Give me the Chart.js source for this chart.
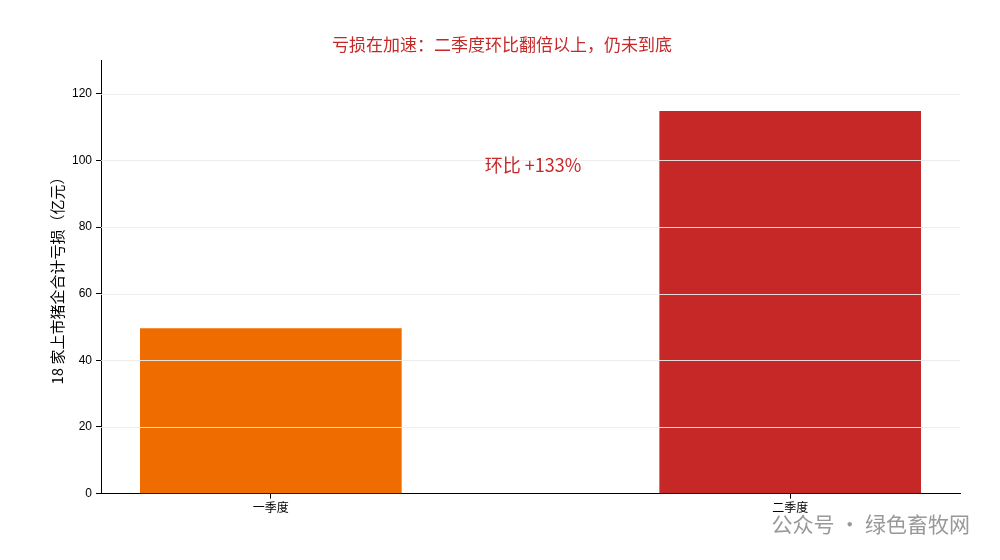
<!DOCTYPE html>
<html><head><meta charset="utf-8">
<script src="https://cdn.jsdelivr.net/npm/chart.js@4"></script>
<style>
body{margin:0;background:#fff;font-family:"Noto Sans CJK SC",sans-serif;}
#wrap{position:relative;width:1000px;height:560px;}
#wm{position:absolute;right:30px;bottom:22px;color:#999;font-size:21px;}
</style></head>
<body><div id="wrap"><canvas id="c" width="1000" height="560"></canvas><div id="wm">公众号 · 绿色畜牧网</div></div>
<script>
const categories = ['一季度', '二季度'];
const losses = [49.5, 114.7];
const barColors = ['#ee6c00', '#c62828'];
const yTicks = [0, 20, 40, 60, 80, 100, 120];
const note = '环比 +133%';

// draw grid lines over the bars, like the source
const gridOnTop = {
    id: 'gridOnTop',
    afterDatasetsDraw(chart) {
        const { ctx, chartArea, scales } = chart;
        ctx.save();
        ctx.strokeStyle = 'rgba(235,235,235,0.9)';
        ctx.lineWidth = 1;
        yTicks.forEach(v => {
            if (v === 0) return;
            const y = Math.round(scales.y.getPixelForValue(v)) + 0.5;
            ctx.beginPath();
            ctx.moveTo(chartArea.left, y);
            ctx.lineTo(chartArea.right, y);
            ctx.stroke();
        });
        ctx.fillStyle = '#c62828';
        ctx.font = '18px "Noto Sans CJK SC"';
        ctx.textAlign = 'center';
        ctx.textBaseline = 'middle';
        ctx.fillText(note, scales.x.getPixelForValue(0.505), scales.y.getPixelForValue(98.5));
        ctx.restore();
    }
};

new Chart(document.getElementById('c'), {
    type: 'bar',
    data: {
        datasets: [{
            data: losses.map((v, i) => ({ x: i, y: v })),
            backgroundColor: barColors,
            barThickness: 261
        }]
    },
    options: {
        responsive: false,
        animation: false,
        layout: { padding: { top: 6, right: 40, left: 44, bottom: 43 } },
        plugins: {
            legend: { display: false },
            tooltip: { enabled: false },
            title: {
                display: true,
                text: '亏损在加速：二季度环比翻倍以上，仍未到底',
                color: '#c62828',
                font: { size: 17, family: '"Noto Sans CJK SC"', weight: 'normal' },
                padding: { top: 28, bottom: 6 }
            }
        },
        scales: {
            x: {
                type: 'linear',
                offset: false,
                min: -0.327, max: 1.327,
                afterBuildTicks: s => { s.ticks = categories.map((c, i) => ({ value: i })); },
                grid: { offset: false, drawOnChartArea: false, tickLength: 5, color: '#000' },
                border: { color: '#000' },
                ticks: { color: '#000', font: { size: 12, family: '"Noto Sans CJK SC"' }, padding: 2,
                         callback: v => categories[v] }
            },
            y: {
                min: 0, max: 130,
                afterBuildTicks: s => { s.ticks = yTicks.map(v => ({ value: v })); },
                grid: { drawOnChartArea: false, tickLength: 5, color: '#000' },
                border: { color: '#000' },
                ticks: { color: '#000', font: { size: 12 }, padding: 4 },
                title: { display: true, text: '18 家上市猪企合计亏损（亿元）', color: '#000', font: { size: 15, family: '"Noto Sans CJK SC"' }, padding: { bottom: 2 } }
            }
        }
    },
    plugins: [gridOnTop]
});
</script></body></html>
